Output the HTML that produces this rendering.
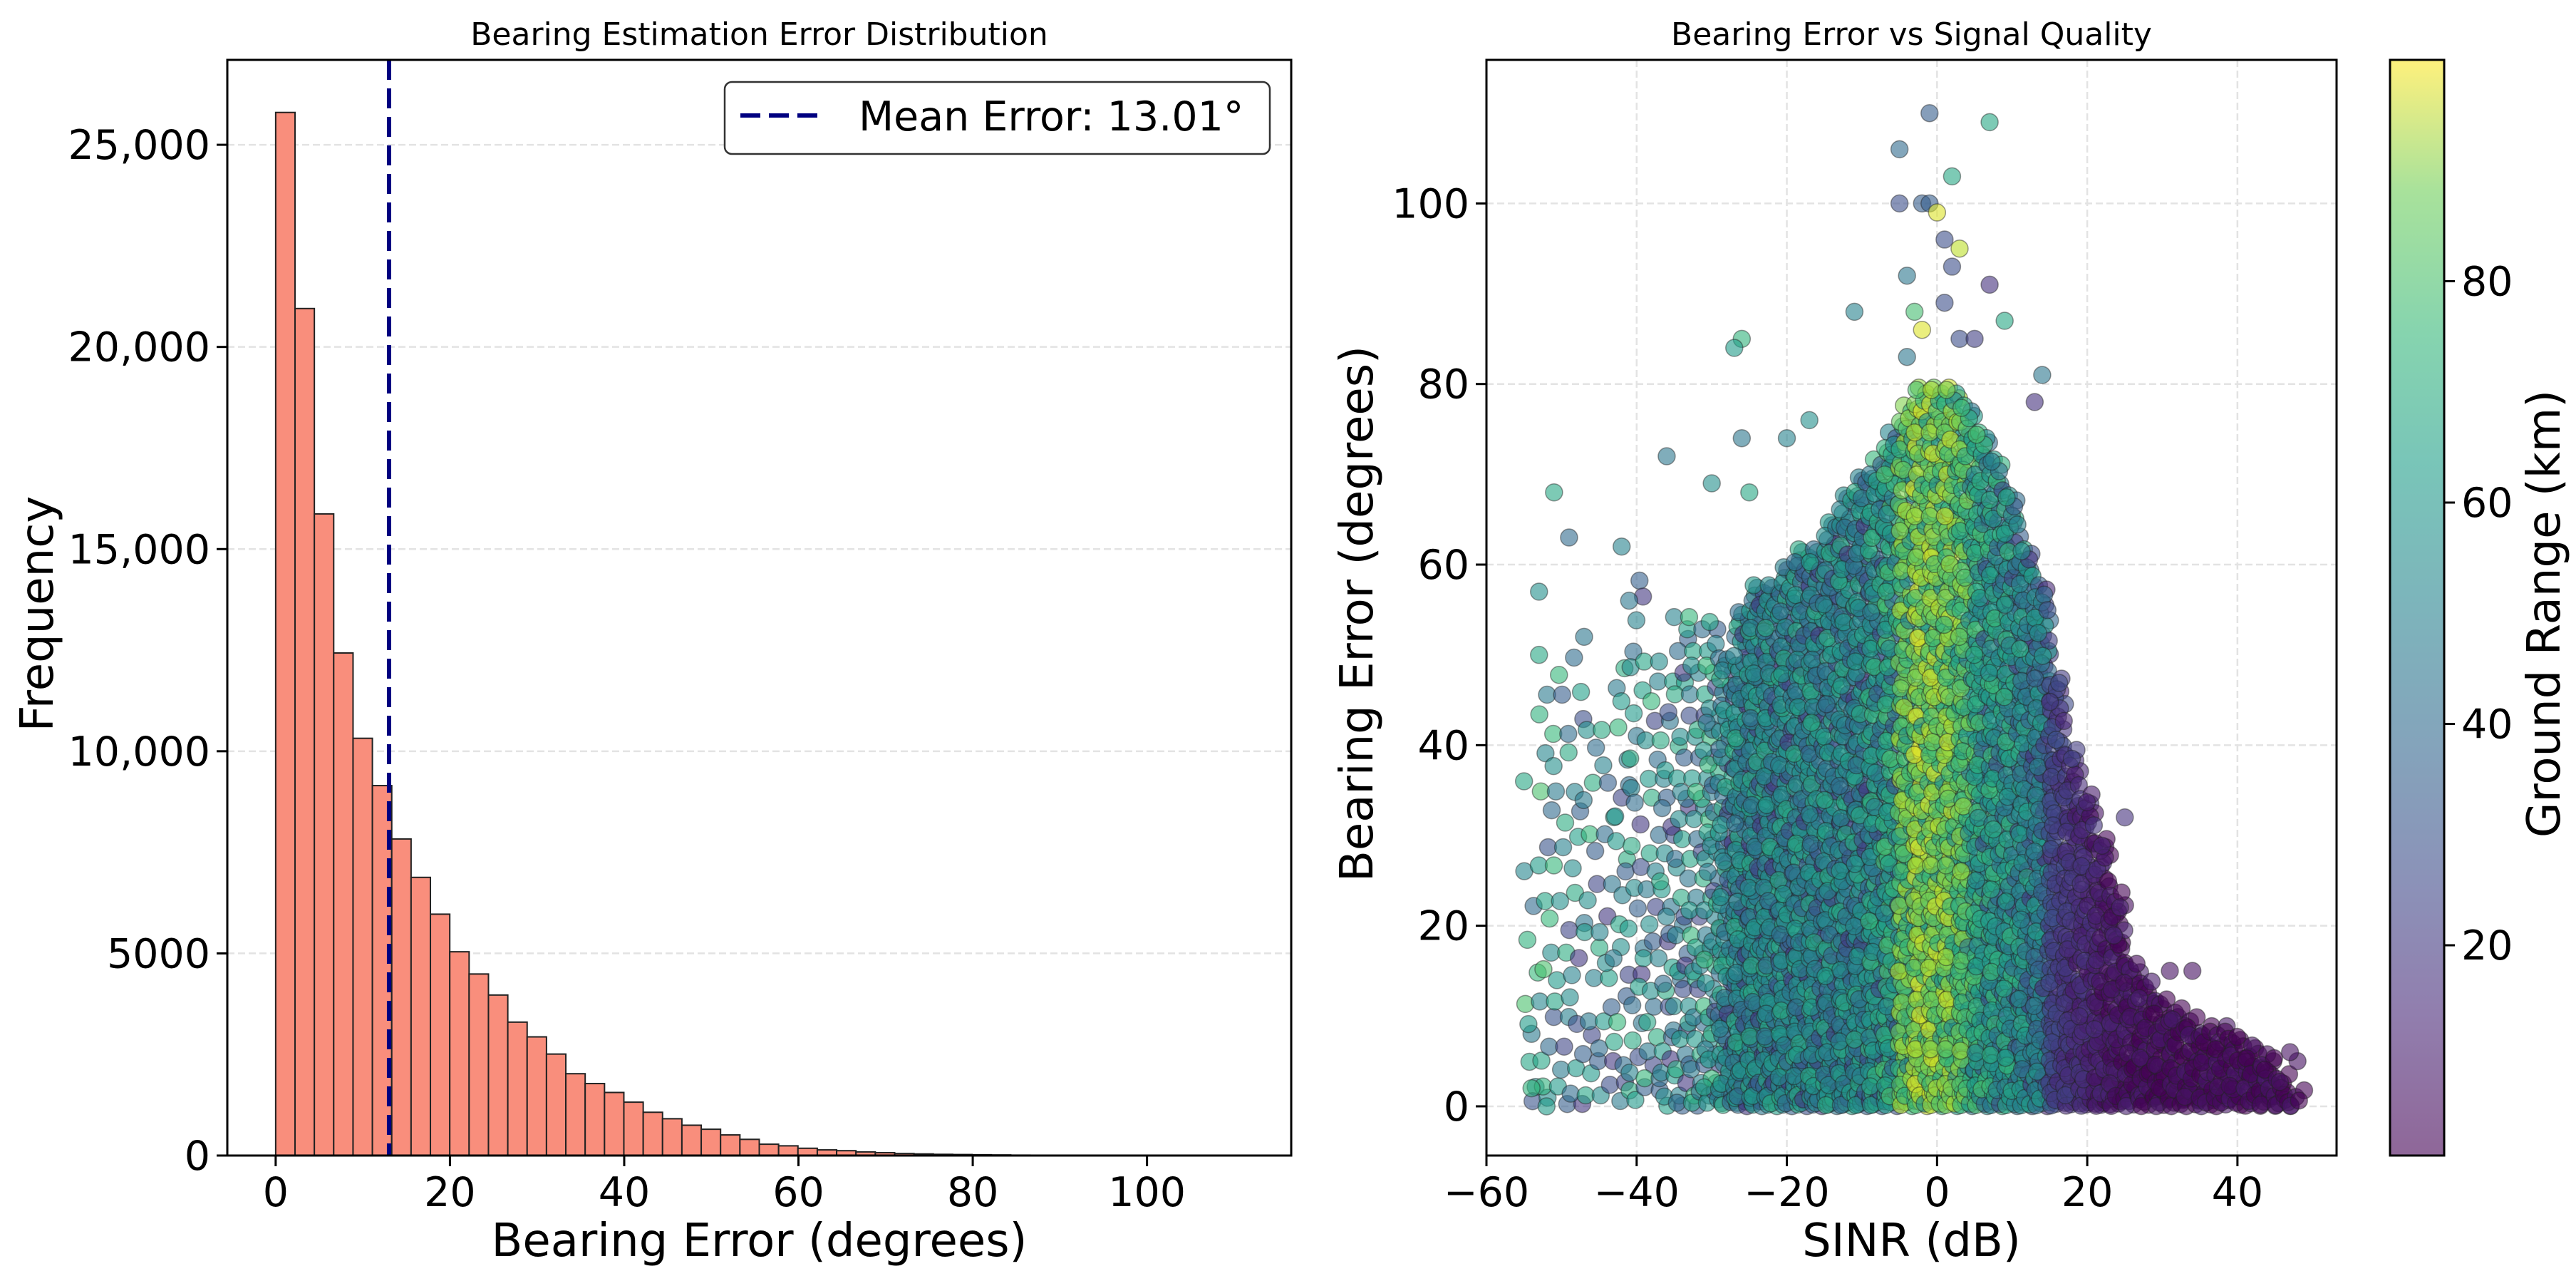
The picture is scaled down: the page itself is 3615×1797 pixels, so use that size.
<!DOCTYPE html>
<html><head><meta charset="utf-8"><style>
html,body{margin:0;padding:0;background:#fff}
svg{display:block;font-family:"DejaVu Sans","Liberation Sans",sans-serif}
</style></head><body>
<svg id="fig" width="3615" height="1797" viewBox="0 0 3615 1797" xmlns="http://www.w3.org/2000/svg">
<defs>
<linearGradient id="vir" x1="0" y1="1" x2="0" y2="0">
<stop offset="0" stop-color="#440154" stop-opacity="0.6"/>
<stop offset="0.13" stop-color="#482878" stop-opacity="0.6"/>
<stop offset="0.25" stop-color="#3e4989" stop-opacity="0.6"/>
<stop offset="0.38" stop-color="#31688e" stop-opacity="0.6"/>
<stop offset="0.5" stop-color="#26828e" stop-opacity="0.6"/>
<stop offset="0.63" stop-color="#1f9e89" stop-opacity="0.6"/>
<stop offset="0.75" stop-color="#35b779" stop-opacity="0.6"/>
<stop offset="0.88" stop-color="#6ece58" stop-opacity="0.6"/>
<stop offset="1" stop-color="#fde725" stop-opacity="0.6"/>
</linearGradient>
<clipPath id="clipR"><rect x="2086" y="84" width="1193" height="1537"/></clipPath>
</defs>
<g id="left"></g>
<g id="right"></g>
</svg>
<script>
// ---------- Histogram data ----------
const binStart = 0, binWidth = 2.22;
const histCounts = [25800,20950,15870,12430,10320,9150,7830,6880,5970,5040,4490,3970,3300,2935,2510,2024,1780,1560,1320,1070,910,750,650,510,400,280,240,180,140,120,90,70,50,40,30,25,20,15,10,8,6,5,4,3,2,2,1,1,1,1];
const histXTicks = [0,20,40,60,80,100];
const histYTicks = [0,5000,10000,15000,20000,25000];
const histYTickLabels = ["0","5000","10,000","15,000","20,000","25,000"];
const meanError = 13.01;

// ---------- Scatter data ----------
const sinrBins = [-54,-52,-50,-48,-46,-44,-42,-40,-38,-36,-34,-32,-30,-28,-26,-24,-22,-20,-18,-16,-14,-12,-10,-8,-6,-4,-2,0,2,4,6,8,10,12,14,16,18,20,22,24,26,28,30,32,34,36,38,40,42,44,46,48];
const binMaxError = [30,50,50,52,45,45,50,60,50,50,55,55,55,50,55,58,58,60,62,62,65,68,70,72,75,78,80,80,80,78,75,72,68,62,58,48,40,35,30,24,16,14,12,11,10,9,9,8,7,6,4,2];
const binRangeKm = [55,55,50,45,50,45,50,45,50,45,45,50,50,45,45,45,45,45,45,45,45,45,45,50,55,72,80,78,76,68,55,52,50,45,40,20,15,12,8,6,5,4,3,3,3,3,3,3,3,3,3,3];
const binSparsity = [3.2,3,3,3,3,3,2.6,2.6,2.5,2.2,2,2,1.6,1.2,1,1,1,1,1,1,1,1,1,1,1,1,1,1,1,1,1,1,1,1,1,1,1,1,1,1,1,1,1,1,1,1,1,1,1,1,1,1.5];
const outlierSinr = [-1,7,-5,2,-5,-2,-1,0,1,3,-4,2,7,1,-3,-11,9,-26,-27,-2,3,5,-4,14,13,-51,-36,-26,-20,-49,-42,-53,-41,-53,-47,-55,-54,-52,-30,-25,-17,25,34,31,48,47];
const outlierError = [110,109,106,103,100,100,100,99,96,95,92,93,91,89,88,88,87,85,84,86,85,85,83,81,78,68,72,74,74,63,62,57,56,50,52,36,2,0,69,68,76,32,15,15,5,6];
const outlierRange = [30,60,35,60,25,30,30,95,25,90,40,25,15,25,70,45,60,65,55,95,25,20,40,40,15,60,40,40,45,35,45,50,40,60,40,60,65,55,50,60,50,15,5,5,5,5];
const shadeCycle = [0,-14,9,-6,16,-20,4,12,-9,-28];
const sxTicks = [-60,-40,-20,0,20,40];
const syTicks = [0,20,40,60,80,100];
const cbTicks = [20,40,60,80];

const NS = "http://www.w3.org/2000/svg";
function mk(tag, attrs, parent, text){
  const e = document.createElementNS(NS, tag);
  for (const k in attrs) e.setAttribute(k, attrs[k]);
  if (text !== undefined) e.textContent = text;
  parent.appendChild(e); return e;
}
const L = document.getElementById('left'), R = document.getElementById('right');

// ---------- Left axes ----------
const lx0=319, lx1=1812, ly0=84, ly1=1621;
const hxMin=-5.55, hxMax=116.55, hyMax=27100;
const hx = v => lx0 + (v-hxMin)/(hxMax-hxMin)*(lx1-lx0);
const hy = v => ly1 - v/hyMax*(ly1-ly0);

histYTicks.forEach((t,i)=>{
  if(t>0){ const g=mk('line',{x1:lx0,x2:lx1,y1:hy(t),y2:hy(t),stroke:'#e3e3e3','stroke-width':2.5,'stroke-dasharray':'10,5'},L);
    }
  const tk=mk('line',{x1:lx0-15,x2:lx0,y1:hy(t),y2:hy(t),stroke:'#000','stroke-width':3},L);
   
  const tl=mk('text',{x:lx0-24,y:hy(t)+20,'text-anchor':'end','font-size':57},L,histYTickLabels[i]);
   
});
histCounts.forEach((c,i)=>{
  const x0=hx(binStart+i*binWidth), x1=hx(binStart+(i+1)*binWidth);
  const b=mk('rect',{x:x0,y:hy(c),width:x1-x0,height:hy(0)-hy(c),fill:'#f98e7c',stroke:'#222','stroke-width':2},L);
   
});
const ml=mk('line',{x1:hx(meanError),x2:hx(meanError),y1:ly0,y2:ly1,stroke:'#000080','stroke-width':6,'stroke-dasharray':'28,12'},L);
 
histXTicks.forEach(t=>{
  const tk=mk('line',{x1:hx(t),x2:hx(t),y1:ly1,y2:ly1+15,stroke:'#000','stroke-width':3},L);
   
  const tl=mk('text',{x:hx(t),y:1692,'text-anchor':'middle','font-size':57},L,String(t));
   
});
const lf=mk('rect',{x:lx0,y:ly0,width:lx1-lx0,height:ly1-ly0,fill:'none',stroke:'#000','stroke-width':3},L);
 
let t1=mk('text',{x:(lx0+lx1)/2,y:63,'text-anchor':'middle','font-size':44},L,'Bearing Estimation Error Distribution');
 
let t2=mk('text',{x:(lx0+lx1)/2,y:1762,'text-anchor':'middle','font-size':64},L,'Bearing Error (degrees)');
 
let t3=mk('text',{x:0,y:0,'text-anchor':'middle','font-size':64,transform:'translate(74,861) rotate(-90)'},L,'Frequency');
 
const lg=mk('g',{},L);
 
mk('rect',{x:1017,y:115,width:765,height:101,rx:10,fill:'#fff',stroke:'#333','stroke-width':2.5},lg);
const ls=mk('line',{x1:1039,x2:1154,y1:162,y2:162,stroke:'#000080','stroke-width':6,'stroke-dasharray':'28,12'},lg);
 
const lt=mk('text',{x:1205,y:183,'font-size':57},lg,'Mean Error: 13.01°');
 

// ---------- Right axes ----------
const rx0=2086, rx1=3279, ry0=84, ry1=1621;
const sxMin=-60.0, sxMax=53.2, syMin=-5.45, syMax=115.9;
const sx = v => rx0 + (v-sxMin)/(sxMax-sxMin)*(rx1-rx0);
const sy = v => ry1 - (v-syMin)/(syMax-syMin)*(ry1-ry0);
const VIR=[[68,1,84],[72,40,120],[62,73,137],[49,104,142],[38,130,142],[31,158,137],[53,183,121],[110,206,88],[181,222,43],[253,231,37]];
function viridis(t){t=Math.max(0,Math.min(1,t));const p=t*(VIR.length-1),i=Math.min(VIR.length-2,Math.floor(p)),f=p-i;
  const c=VIR[i].map((v,k)=>Math.round(v+(VIR[i+1][k]-v)*f));return `rgb(${c[0]},${c[1]},${c[2]})`;}
const cMin=1, cMax=100;
const cnorm = v => (v-cMin)/(cMax-cMin);

sxTicks.forEach(t=>{
  const g=mk('line',{x1:sx(t),x2:sx(t),y1:ry0,y2:ry1,stroke:'#e3e3e3','stroke-width':2.5,'stroke-dasharray':'10,5'},R);
   
});
syTicks.forEach(t=>{
  const g=mk('line',{x1:rx0,x2:rx1,y1:sy(t),y2:sy(t),stroke:'#e3e3e3','stroke-width':2.5,'stroke-dasharray':'10,5'},R);
   
});
const pts=mk('g',{'clip-path':'url(#clipR)'},R);
 
function dot(x,y,r){
  const c=mk('circle',{cx:sx(x),cy:sy(y),r:12,fill:viridis(cnorm(r)),'fill-opacity':0.6,stroke:'#222','stroke-opacity':0.45,'stroke-width':1.5},pts);
   
}
// Halton low-discrepancy sequence for evenly filling each bin's area
function halton(i,b){let f=1,r=0;while(i>0){f/=b;r+=f*(i%b);i=Math.floor(i/b);}return r;}
sinrBins.forEach((s,i)=>{
  const sp=binSparsity[i], maxE=binMaxError[i], rk=binRangeKm[i];
  const n=Math.round(2.8*maxE/(sp*sp))+2;
  for(let k=1;k<=n;k++){
    const u=halton(k+i*7,2), v=halton(k+i*7,3);
    const x=s-1.1+2.2*u;
    const e=maxE*Math.pow(v,1.2);
    const shade=rk+shadeCycle[(k+i)%shadeCycle.length]*(rk>20?1:0.3);
    dot(x,e,Math.max(1,Math.min(99,shade)));
  }
});
outlierSinr.forEach((s,i)=>dot(s,outlierError[i],outlierRange[i]));

sxTicks.forEach(t=>{
  const tk=mk('line',{x1:sx(t),x2:sx(t),y1:ry1,y2:ry1+15,stroke:'#000','stroke-width':3},R);
   
  const tl=mk('text',{x:sx(t),y:1692,'text-anchor':'middle','font-size':57},R,t<0?'\u2212'+Math.abs(t):String(t));
   
});
syTicks.forEach(t=>{
  const tk=mk('line',{x1:rx0-15,x2:rx0,y1:sy(t),y2:sy(t),stroke:'#000','stroke-width':3},R);
   
  const tl=mk('text',{x:rx0-24,y:sy(t)+20,'text-anchor':'end','font-size':57},R,String(t));
   
});
const rf=mk('rect',{x:rx0,y:ry0,width:rx1-rx0,height:ry1-ry0,fill:'none',stroke:'#000','stroke-width':3},R);
 
let t4=mk('text',{x:(rx0+rx1)/2,y:63,'text-anchor':'middle','font-size':44},R,'Bearing Error vs Signal Quality');
 
let t5=mk('text',{x:(rx0+rx1)/2,y:1762,'text-anchor':'middle','font-size':64},R,'SINR (dB)');
 
let t6=mk('text',{x:0,y:0,'text-anchor':'middle','font-size':64,transform:'translate(1926,861) rotate(-90)'},R,'Bearing Error (degrees)');
 

// colorbar
const cx0=3354, cx1=3430;
const cy = v => ry1 - (v-cMin)/(cMax-cMin)*(ry1-ry0);
const cb=mk('rect',{x:cx0,y:ry0,width:cx1-cx0,height:ry1-ry0,fill:'url(#vir)',stroke:'#000','stroke-width':3},R);
 
cbTicks.forEach(t=>{
  const tk=mk('line',{x1:cx1,x2:cx1+15,y1:cy(t),y2:cy(t),stroke:'#000','stroke-width':3},R);
   
  const tl=mk('text',{x:cx1+24,y:cy(t)+20,'font-size':57},R,String(t));
   
});
let t7=mk('text',{x:0,y:0,'text-anchor':'middle','font-size':64,transform:'translate(3592,861) rotate(-90)'},R,'Ground Range (km)');
 
</script>
</body></html>
